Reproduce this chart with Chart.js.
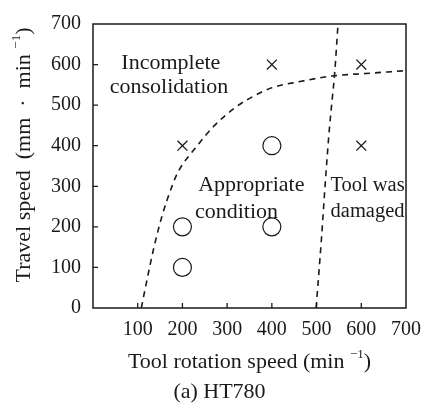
<!DOCTYPE html>
<html>
<head>
<meta charset="utf-8">
<script src="https://cdn.jsdelivr.net/npm/chart.js@4.4.1/dist/chart.umd.min.js"></script>
<style>
    html, body { margin: 0; padding: 0; background: #fff; }
    #wrap { width: 431px; height: 410px; }
</style>
</head>
<body>
<div id="wrap"><canvas id="chart"></canvas></div>
<script>
// tick labels
const xTicks = [100, 200, 300, 400, 500, 600, 700];
const yTicks = [0, 100, 200, 300, 400, 500, 600, 700];

// experiments: appropriate condition (circles)
const goodX = [200, 200, 400, 400];
const goodY = [100, 200, 200, 400];

// experiments: defects (crosses)
const badX = [200, 400, 600, 600];
const badY = [400, 600, 600, 400];

// dashed boundary: incomplete consolidation
const lowBoundX = [108, 122, 136, 155, 177, 191, 228, 272, 323, 375, 400, 462, 536, 610, 700];
const lowBoundY = [0, 76, 148, 229, 301, 337, 393, 450, 498, 531, 543, 558, 572, 578, 585];

// dashed boundary: tool damage
const highBoundX = [499, 511, 520, 529, 536, 540, 548];
const highBoundY = [0, 172, 317, 446, 526, 572, 700];

// region labels
const regionText = ["Incomplete", "consolidation", "Appropriate", "condition", "Tool was", "damaged"];
const regionX = [174, 170, 354, 321, 614, 614];
const regionY = [603, 543, 302, 237, 302, 237];

// axis titles, "sup" parts are raised
const xTitle = [
    { text: "Tool rotation speed (min " },
    { text: "\u22121", sup: true },
    { text: ")" }
];
const yTitle = [
    { text: "Travel speed  (mm  \u00B7  min " },
    { text: "\u22121", sup: true },
    { text: ")" }
];
const caption = "(a) HT780";

const FONT = "'Liberation Serif', 'Times New Roman', serif";
const INK = "#1a1a1a";

function toPoints(xs, ys) {
    return xs.map((x, i) => ({ x: x, y: ys[i] }));
}

function drawParts(ctx, parts, cx, cy) {
    const big = "22px " + FONT;
    const small = "13px " + FONT;
    let total = 0;
    parts.forEach(p => {
        ctx.font = p.sup ? small : big;
        p.w = ctx.measureText(p.text).width;
        total += p.w;
    });
    let x = cx - total / 2;
    ctx.textAlign = "left";
    ctx.textBaseline = "middle";
    parts.forEach(p => {
        ctx.font = p.sup ? small : big;
        ctx.fillText(p.text, x, p.sup ? cy - 7 : cy);
        x += p.w;
    });
}

const frame = {
    id: "frame",
    afterDatasetsDraw(chart) {
        const { ctx, chartArea, scales } = chart;
        ctx.save();
        ctx.strokeStyle = INK;
        ctx.lineWidth = 1.5;
        ctx.strokeRect(
            chartArea.left,
            chartArea.top,
            chartArea.right - chartArea.left,
            chartArea.bottom - chartArea.top
        );
        // inward ticks
        ctx.lineWidth = 1.3;
        ctx.beginPath();
        xTicks.forEach(v => {
            if (v >= 700) return;
            const px = scales.x.getPixelForValue(v);
            ctx.moveTo(px, chartArea.bottom);
            ctx.lineTo(px, chartArea.bottom - 5);
        });
        yTicks.forEach(v => {
            if (v <= 0 || v >= 700) return;
            const py = scales.y.getPixelForValue(v);
            ctx.moveTo(chartArea.left, py);
            ctx.lineTo(chartArea.left + 5, py);
        });
        ctx.stroke();

        // region labels
        ctx.fillStyle = INK;
        ctx.textAlign = "center";
        ctx.textBaseline = "middle";
        regionText.forEach((t, i) => {
            ctx.font = (regionX[i] > 500 ? "20.5px " : "22px ") + FONT;
            ctx.fillText(
                t,
                scales.x.getPixelForValue(regionX[i]),
                scales.y.getPixelForValue(regionY[i])
            );
        });

        // axis titles and caption
        const midX = (chartArea.left + chartArea.right) / 2;
        const midY = (chartArea.top + chartArea.bottom) / 2;
        drawParts(ctx, xTitle, midX, chartArea.bottom + 54);

        ctx.save();
        ctx.translate(24, midY - 11);
        ctx.rotate(-Math.PI / 2);
        drawParts(ctx, yTitle, 0, 0);
        ctx.restore();

        ctx.font = "22px " + FONT;
        ctx.textAlign = "center";
        ctx.fillText(caption, chart.width / 2 + 4, chartArea.bottom + 84);
        ctx.restore();
    }
};

Chart.defaults.font.family = FONT;
Chart.defaults.color = INK;

new Chart(document.getElementById("chart"), {
    type: "scatter",
    data: {
        datasets: [
            {
                data: toPoints(lowBoundX, lowBoundY),
                showLine: true,
                borderColor: INK,
                borderWidth: 1.6,
                borderDash: [6, 5],
                cubicInterpolationMode: "monotone",
                pointRadius: 0
            },
            {
                data: toPoints(highBoundX, highBoundY),
                showLine: true,
                borderColor: INK,
                borderWidth: 1.6,
                borderDash: [6, 5],
                cubicInterpolationMode: "monotone",
                pointRadius: 0
            },
            {
                data: toPoints(goodX, goodY),
                pointStyle: "circle",
                pointRadius: 9,
                borderColor: INK,
                borderWidth: 1.2,
                backgroundColor: "#fff"
            },
            {
                data: toPoints(badX, badY),
                pointStyle: "crossRot",
                pointRadius: 7,
                borderColor: INK,
                borderWidth: 1.3
            }
        ]
    },
    options: {
        responsive: true,
        maintainAspectRatio: false,
        animation: false,
        layout: {
            padding: { top: 18, right: 20, left: 0, bottom: 0 }
        },
        plugins: {
            legend: { display: false },
            tooltip: { enabled: false }
        },
        scales: {
            x: {
                type: "linear",
                min: 0,
                max: 700,
                afterBuildTicks(scale) {
                    scale.ticks = [0].concat(xTicks).map(v => ({ value: v }));
                },
                afterFit(scale) {
                    scale.height = 102;
                },
                border: { display: false },
                grid: { display: false, drawTicks: false },
                ticks: {
                    padding: 10,
                    font: { size: 20 },
                    callback: v => (v === 0 ? "" : v)
                }
            },
            y: {
                type: "linear",
                min: 0,
                max: 700,
                afterBuildTicks(scale) {
                    scale.ticks = yTicks.map(v => ({ value: v }));
                },
                afterFit(scale) {
                    scale.width = 93;
                },
                border: { display: false },
                grid: { display: false, drawTicks: false },
                ticks: {
                    padding: 12,
                    font: { size: 20 }
                }
            }
        }
    },
    plugins: [frame]
});
</script>
</body>
</html>
